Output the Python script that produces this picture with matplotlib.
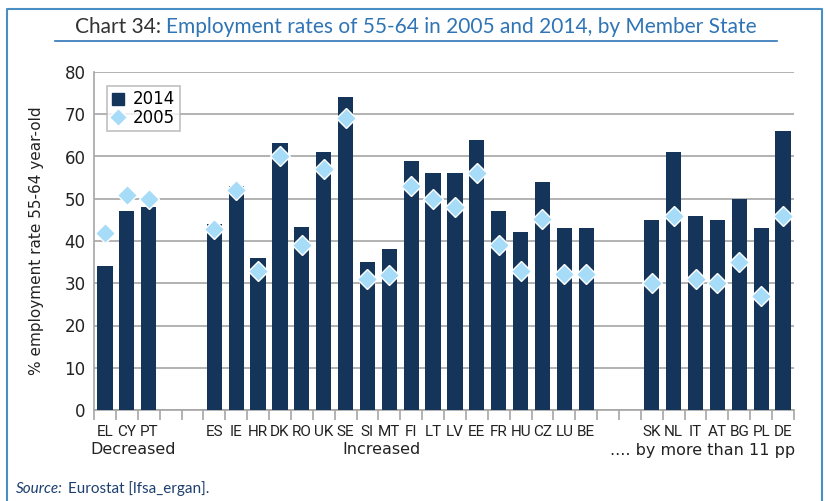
"""Employment rates of 55-64 year-olds, 2005 vs 2014, by Member State."""
import numpy as np
import matplotlib.pyplot as plt
from matplotlib.lines import Line2D

# ---------- data ----------
DECREASED = ["EL", "CY", "PT"]
INCREASED = ["ES", "IE", "HR", "DK", "RO", "UK", "SE", "SI", "MT",
             "FI", "LT", "LV", "EE", "FR", "HU", "CZ", "LU", "BE"]
BIG_RISE = ["SK", "NL", "IT", "AT", "BG", "PL", "DE"]

rate_2014_dec = [34.0, 47.1, 48.1]
rate_2005_dec = [42.0, 51.0, 50.0]
rate_2014_inc = [44.1, 53.0, 36.0, 63.1, 43.2, 61.1, 74.1, 35.1, 38.1,
                 59.0, 56.2, 56.2, 64.0, 47.1, 42.2, 54.0, 43.1, 43.1]
rate_2005_inc = [42.9, 52.0, 33.0, 60.0, 39.0, 57.0, 69.1, 31.0, 31.9,
                 53.0, 50.0, 48.1, 56.1, 39.0, 33.0, 45.1, 32.1, 32.1]
rate_2014_big = [45.0, 61.1, 46.0, 45.0, 50.0, 43.1, 66.1]
rate_2005_big = [30.0, 46.0, 31.0, 30.0, 35.0, 27.0, 46.0]

GAP = 2  # empty slots between the groups

BAR_COLOR = "#14345a"
DIAMOND_COLOR = "#a6dcf7"
GRID_COLOR = "#a6a6a6"
FRAME_COLOR = "#4a8fc4"
TITLE_BLUE = "#2f74b5"


def slot_layout():
    labels, v14, v05 = [], [], []
    groups = [(DECREASED, rate_2014_dec, rate_2005_dec),
              (INCREASED, rate_2014_inc, rate_2005_inc),
              (BIG_RISE, rate_2014_big, rate_2005_big)]
    for i, (names, a, b) in enumerate(groups):
        labels += names
        v14 += a
        v05 += b
        if i < len(groups) - 1:
            labels += [""] * GAP
            v14 += [np.nan] * GAP
            v05 += [np.nan] * GAP
    return labels, np.array(v14), np.array(v05)


def main() -> None:
    labels, v14, v05 = slot_layout()
    x = np.arange(len(labels))

    fig = plt.figure(figsize=(8.26, 5.01), dpi=100)
    ax = fig.add_axes([94 / 826, 91 / 501, 700 / 826, 338 / 501])

    ax.bar(x, v14, width=0.70, color=BAR_COLOR, zorder=3)
    ax.plot(x, v05, linestyle="none", marker="D", markersize=10,
            markerfacecolor=DIAMOND_COLOR, markeredgecolor="white",
            markeredgewidth=1.0, zorder=4)

    ax.set_xlim(-0.5, len(labels) - 0.5)
    ax.set_ylim(0, 80)
    ax.set_yticks(np.arange(0, 81, 10))
    ax.yaxis.grid(True, color=GRID_COLOR, linewidth=1.2, zorder=0)
    ax.tick_params(axis="y", length=0, pad=6, labelsize=12, colors="#222222")

    # category labels centred, tick marks on slot boundaries
    ax.set_xticks(x)
    ax.set_xticklabels(labels, family="Roboto", fontsize=11,
                       stretch="condensed", color="#222222")
    ax.tick_params(axis="x", length=0, pad=11)
    ax.set_xticks(np.arange(-0.5, len(labels) + 0.5, 1), minor=True)
    ax.tick_params(axis="x", which="minor", length=7, color=GRID_COLOR,
                   width=1.2)

    for side in ["top", "right"]:
        ax.spines[side].set_visible(False)
    for side in ["left", "bottom"]:
        ax.spines[side].set_color(GRID_COLOR)
        ax.spines[side].set_linewidth(1.2)

    ax.set_ylabel("% employment rate 55-64 year-old", fontsize=11,
                  color="#222222")
    ax.yaxis.set_label_coords(-0.072, 0.5)

    # group captions under the country codes
    cap = dict(fontsize=11.5, color="#222222", va="center")
    fig.text(133 / 826, 1 - 450 / 501, "Decreased", ha="center", **cap)
    fig.text(381 / 826, 1 - 450 / 501, "Increased", ha="center", **cap)
    fig.text(795 / 826, 1 - 450 / 501, ".... by more than 11 pp",
             ha="right", **cap)

    handles = [
        Line2D([], [], linestyle="none", marker="s", markersize=9,
               color=BAR_COLOR),
        Line2D([], [], linestyle="none", marker="D", markersize=9,
               markerfacecolor=DIAMOND_COLOR, markeredgecolor="white"),
    ]
    leg = ax.legend(handles, ["2014", "2005"], loc="upper left",
                    bbox_to_anchor=(0.019, 0.958), fontsize=12,
                    frameon=True, fancybox=False, handlelength=0.8,
                    handletextpad=0.5, borderpad=0.25, labelspacing=0.05,
                    borderaxespad=0)
    leg.get_frame().set_edgecolor("#b0b0b0")
    leg.get_frame().set_linewidth(1.2)

    # title
    t1 = fig.text(75 / 826, 1 - 27 / 501, "Chart 34: ", family="Lato",
                  fontsize=15, color="#333333", va="center", ha="left")
    fig.canvas.draw()
    bb = t1.get_window_extent()
    fig.text(bb.x1 / 826, 1 - 27 / 501,
             "Employment rates of 55-64 in 2005 and 2014, by Member State",
             family="Lato", fontsize=15, color=TITLE_BLUE,
             va="center", ha="left")
    fig.add_artist(Line2D([55 / 826, 777 / 826], [1 - 41 / 501, 1 - 41 / 501],
                          color=TITLE_BLUE, linewidth=1.2))

    # outer frame, open at the bottom
    fig.add_artist(Line2D([7 / 826, 7 / 826, 822 / 826, 822 / 826],
                          [0, 1 - 9 / 501, 1 - 9 / 501, 0],
                          color=FRAME_COLOR, linewidth=1.5))

    # source note
    s1 = fig.text(16 / 826, 1 - 489 / 501, "Source:", style="italic",
                  family="Lato", fontsize=11, color="#1d3f6e", va="center")
    fig.canvas.draw()
    bb = s1.get_window_extent()
    fig.text((bb.x1 + 5) / 826, 1 - 489 / 501, "Eurostat [lfsa_ergan].",
             family="Lato", fontsize=11, color="#1d3f6e", va="center")

    fig.savefig("out.png", dpi=100)
    plt.close(fig)


if __name__ == "__main__":
    main()
